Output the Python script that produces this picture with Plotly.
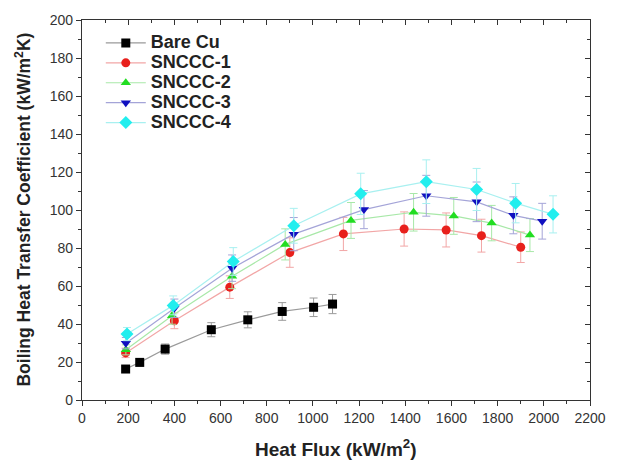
import plotly.graph_objects as go

# Heat flux (kW/m^2) and boiling heat transfer coefficient (kW/m^2K) per surface
bare_q = [189, 250, 360, 560, 718, 867, 1003, 1085]
bare_h = [16.3, 19.8, 26.8, 37.0, 42.2, 46.6, 48.8, 50.5]

s1_q = [189, 400, 640, 900, 1132, 1395, 1577, 1730, 1900]
s1_h = [24.8, 41.7, 59.4, 77.6, 87.4, 90.0, 89.5, 86.5, 80.4]

s2_q = [190, 390, 650, 880, 1165, 1436, 1610, 1774, 1940]
s2_h = [26.4, 44.3, 65.1, 81.9, 94.5, 98.8, 96.9, 93.1, 86.8]

s3_q = [190, 400, 650, 917, 1221, 1491, 1709, 1868, 1993]
s3_h = [29.9, 48.3, 69.4, 87.3, 100.2, 107.5, 104.3, 97.2, 94.1]

s4_q = [195, 395, 655, 917, 1207, 1491, 1709, 1878, 2040]
s4_h = [34.7, 49.8, 72.9, 91.7, 108.5, 114.9, 110.8, 103.6, 97.7]

x_title = "<b>Heat Flux (kW/m<sup>2</sup>)</b>"
y_title = "<b>Boiling Heat Transfer Coefficient (kW/m<sup>2</sup>K)</b>"

series = [
    ("Bare Cu", bare_q, bare_h, "black", "#9a9a9a", "square"),
    ("SNCCC-1", s1_q, s1_h, "#e8201c", "#f2a6a6", "circle"),
    ("SNCCC-2", s2_q, s2_h, "#22dd22", "#a8e8a8", "triangle-up"),
    ("SNCCC-3", s3_q, s3_h, "#1010c0", "#a4a4d8", "triangle-down"),
    ("SNCCC-4", s4_q, s4_h, "#22eeee", "#a8f0f0", "diamond"),
]

fig = go.Figure()
for name, q, h, mcol, lcol, sym in series:
    fig.add_trace(go.Scatter(
        x=q, y=h, mode="lines+markers",
        # legend rows stay tight while the label text is drawn larger
        name=f'<span style="font-size:18px">{name}</span>',
        line=dict(color=lcol, width=1.2),
        marker=dict(symbol=sym, size=9 if sym != "diamond" else 10, color=mcol),
        error_y=dict(type="percent", value=10, color=lcol, thickness=1, width=4),
    ))

# empty trace that carries the mirrored top/right frame axes
fig.add_trace(go.Scatter(x=[], y=[], xaxis="x2", yaxis="y2", showlegend=False))

FAM = "Liberation Sans, Arial, sans-serif"
tickfont = dict(family=FAM, size=14, color="#333")

fig.update_layout(
    width=618, height=463,
    margin=dict(l=82, r=25, t=16, b=63),
    paper_bgcolor="white", plot_bgcolor="white",
    font=dict(family=FAM, color="#222"),
    showlegend=True,
    legend=dict(x=0.037, y=0.979, xanchor="left", yanchor="top",
                font=dict(family=FAM, size=13, color="#222", weight="bold"),
                bgcolor="rgba(0,0,0,0)", tracegroupgap=0, itemwidth=40),
    xaxis=dict(range=[0, 2200], dtick=200, showgrid=False, zeroline=False,
               showline=True, linecolor="#333", linewidth=1.2,
               ticks="outside", ticklen=5, tickcolor="#333", tickfont=tickfont,
               minor=dict(dtick=100, ticks="outside", ticklen=3, tickcolor="#333")),
    yaxis=dict(range=[0, 200], dtick=20, showgrid=False, zeroline=False,
               showline=True, linecolor="#333", linewidth=1.2,
               ticks="outside", ticklen=5, tickcolor="#333", tickfont=tickfont,
               minor=dict(dtick=10, ticks="outside", ticklen=3, tickcolor="#333")),
    xaxis2=dict(range=[0, 2200], dtick=200, overlaying="x", side="top", anchor="y2",
                showgrid=False, zeroline=False, showline=True, linecolor="#333", linewidth=1.2,
                ticks="inside", ticklen=5, tickcolor="#333", showticklabels=False,
                minor=dict(dtick=100, ticks="inside", ticklen=3, tickcolor="#333")),
    yaxis2=dict(range=[0, 200], dtick=20, overlaying="y", side="right", anchor="x2",
                showgrid=False, zeroline=False, showline=True, linecolor="#333", linewidth=1.2,
                ticks="inside", ticklen=5, tickcolor="#333", showticklabels=False,
                minor=dict(dtick=10, ticks="inside", ticklen=3, tickcolor="#333")),
    annotations=[
        dict(text=x_title, xref="paper", yref="paper", x=0.5, y=-0.125,
             xanchor="center", yanchor="middle", showarrow=False,
             font=dict(family=FAM, size=19, color="#222")),
        dict(text=y_title, xref="paper", yref="paper", x=-0.117, y=0.5,
             xanchor="center", yanchor="middle", showarrow=False, textangle=-90,
             font=dict(family=FAM, size=17.5, color="#222")),
    ],
)

fig.write_html("out.html")
